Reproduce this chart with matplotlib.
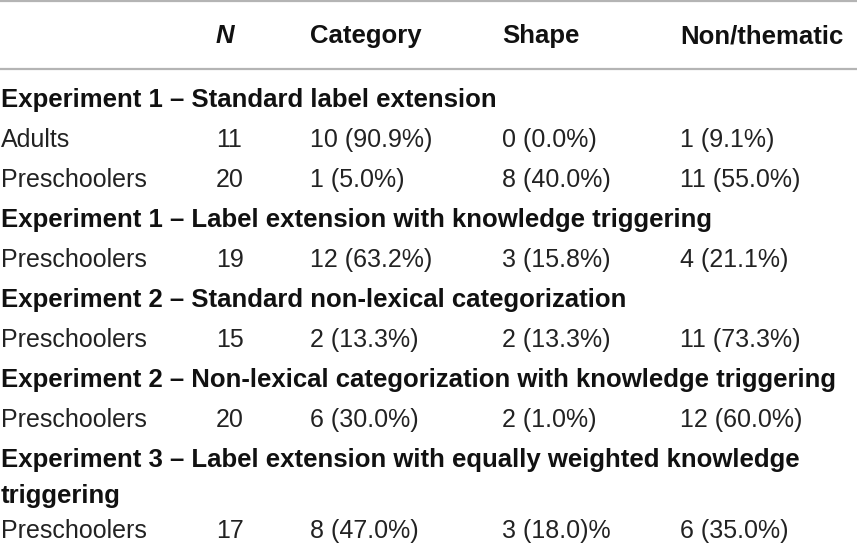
import matplotlib
matplotlib.use("Agg")
import matplotlib.pyplot as plt

# ---- data ----
col_headers = ["N", "Category", "Shape", "Non/thematic"]
sections = [
    "Experiment 1 \u2013 Standard label extension",
    "Experiment 1 \u2013 Label extension with knowledge triggering",
    "Experiment 2 \u2013 Standard non-lexical categorization",
    "Experiment 2 \u2013 Non-lexical categorization with knowledge triggering",
    "Experiment 3 \u2013 Label extension with equally weighted knowledge\ntriggering",
]
groups = [["Adults", "Preschoolers"], ["Preschoolers"], ["Preschoolers"], ["Preschoolers"], ["Preschoolers"]]
n_values = [[11, 20], [19], [15], [20], [17]]
category = [["10 (90.9%)", "1 (5.0%)"], ["12 (63.2%)"], ["2 (13.3%)"], ["6 (30.0%)"], ["8 (47.0%)"]]
shape = [["0 (0.0%)", "8 (40.0%)"], ["3 (15.8%)"], ["2 (13.3%)"], ["2 (1.0%)"], ["3 (18.0)%"]]
nonthematic = [["1 (9.1%)", "11 (55.0%)"], ["4 (21.1%)"], ["11 (73.3%)"], ["12 (60.0%)"], ["6 (35.0%)"]]

# ---- layout ----
W, H = 857, 543
fig = plt.figure(figsize=(W / 100, H / 100), dpi=100)
ax = fig.add_axes([0, 0, 1, 1])
ax.set_xlim(0, W)
ax.set_ylim(H, 0)
ax.axis("off")

FONT = "Liberation Sans"
FS = 18.0
FSB = 18.5
col_x = [216, 310, 502, 680]
line_color = "#b4b4b4"

ax.plot([0, W], [1, 1], color=line_color, lw=1.6, solid_capstyle="butt")
ax.plot([0, W], [69, 69], color=line_color, lw=1.6, solid_capstyle="butt")

for i, h in enumerate(col_headers):
    ax.text(col_x[i], 43, h, fontsize=FSB, fontweight="bold", family=FONT,
            style="italic" if h == "N" else "normal", va="baseline", ha="left", color="#111111")

y = 107
step = 40
for s, sec in enumerate(sections):
    lines = sec.split("\n")
    for k, ln in enumerate(lines):
        ax.text(1, y, ln, fontsize=FSB, fontweight="bold", family=FONT,
                va="baseline", ha="left", color="#111111")
        if k < len(lines) - 1:
            y += 36
    y += step if len(lines) == 1 else 35
    for g in range(len(groups[s])):
        vals = [str(n_values[s][g]), category[s][g], shape[s][g], nonthematic[s][g]]
        ax.text(1, y, groups[s][g], fontsize=FS, family=FONT, va="baseline", ha="left", color="#222222")
        for c, v in enumerate(vals):
            ax.text(col_x[c], y, v, fontsize=FS, family=FONT, va="baseline", ha="left", color="#222222")
        y += step

fig.savefig("out.png", dpi=100, facecolor="white")
